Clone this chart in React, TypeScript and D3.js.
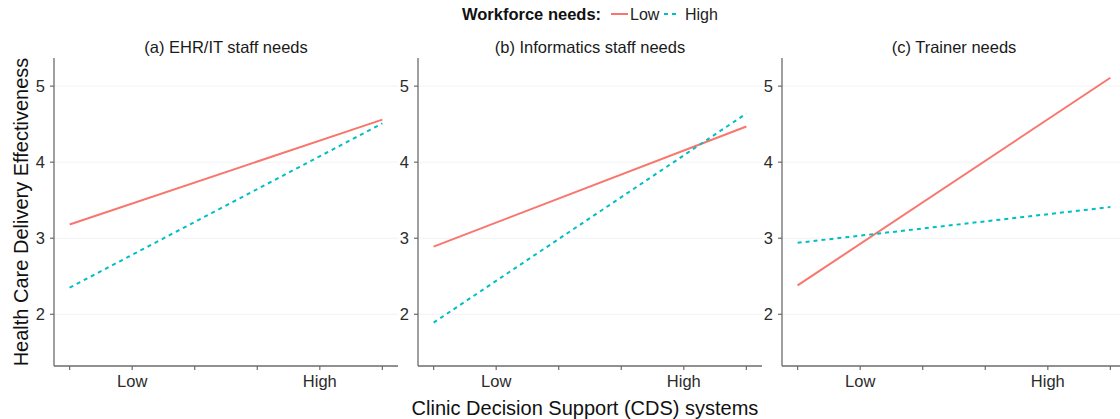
import React from "react";
import * as d3 from "d3";

// Simple-slope data: predicted effectiveness at the two ends of the CDS axis
const panelTitles = ["(a) EHR/IT staff needs", "(b) Informatics staff needs", "(c) Trainer needs"];
const lineX = [0, 5];
const lowNeeds = [
  [3.18, 4.56],
  [2.89, 4.47],
  [2.38, 5.11],
];
const highNeeds = [
  [2.35, 4.51],
  [1.89, 4.64],
  [2.94, 3.41],
];
const xBreaks = [0, 1, 2, 3, 4, 5];
const xBreakLabels = ["", "Low", "", "", "High", ""];
const yBreaks = [2, 3, 4, 5];
const seriesNames = ["Low", "High"];
const legendTitle = "Workforce needs:";
const xTitle = "Clinic Decision Support (CDS) systems";
const yTitle = "Health Care Delivery Effectiveness";

const W = 1120;
const H = 419;
const panelLefts = [54, 418, 782];
const panelW = 344;
const top = 58;
const bottom = 366;
const RED = "#F8766D";
const BLUE = "#00BFC4";
const FONT = "'Liberation Sans', Arial, sans-serif";
const SMALL = 16.5;
const LARGE = 20;

export default function App() {
  const y = d3.scaleLinear().domain([1.32, 5.37]).range([bottom, top]);
  const line = d3
    .line<[number, number]>()
    .x((d) => d[0])
    .y((d) => d[1]);

  return (
    <svg
      width={W}
      height={H}
      style={{ position: "absolute", left: 0, top: 0, background: "#fff" }}
      fontFamily={FONT}
    >
      {/* legend */}
      <g>
        <text x={462} y={20} fontSize={SMALL} fontWeight="bold" fill="#111">
          {legendTitle}
        </text>
        <line x1={611} x2={628} y1={14} y2={14} stroke={RED} strokeWidth={2} />
        <text x={630} y={20} fontSize={16} fill="#222">
          {seriesNames[0]}
        </text>
        <line x1={664} x2={680} y1={14} y2={14} stroke={BLUE} strokeWidth={2} strokeDasharray="4 4" />
        <text x={685} y={20} fontSize={16} fill="#222">
          {seriesNames[1]}
        </text>
      </g>

      {panelTitles.map((title, i) => {
        const left = panelLefts[i];
        const x = d3.scaleLinear().domain([-0.25, 5.25]).range([left, left + panelW]);
        const lowPts = lineX.map((v, k) => [x(v), y(lowNeeds[i][k])] as [number, number]);
        const highPts = lineX.map((v, k) => [x(v), y(highNeeds[i][k])] as [number, number]);
        return (
          <g key={title}>
            {yBreaks.map((b) => (
              <line
                key={"g" + b}
                x1={left}
                x2={left + panelW}
                y1={y(b)}
                y2={y(b)}
                stroke="#f2f2f2"
                strokeWidth={1}
              />
            ))}
            <text
              x={left + panelW / 2}
              y={53}
              fontSize={SMALL}
              textAnchor="middle"
              fill="#1a1a1a"
            >
              {title}
            </text>
            <path d={line(lowPts) || ""} fill="none" stroke={RED} strokeWidth={2} />
            <path
              d={line(highPts) || ""}
              fill="none"
              stroke={BLUE}
              strokeWidth={2}
              strokeDasharray="4 4"
            />
            {/* axes */}
            <line x1={left} x2={left} y1={top} y2={bottom} stroke="#6b6b6b" strokeWidth={1.3} />
            <line x1={left} x2={left + panelW} y1={bottom} y2={bottom} stroke="#6b6b6b" strokeWidth={1.3} />
            {yBreaks.map((b) => (
              <g key={"y" + b}>
                <line x1={left - 4} x2={left} y1={y(b)} y2={y(b)} stroke="#6b6b6b" strokeWidth={1.2} />
                <text
                  x={left - 9}
                  y={y(b) + 6}
                  fontSize={SMALL}
                  textAnchor="end"
                  fill="#2b2b2b"
                >
                  {b}
                </text>
              </g>
            ))}
            {xBreaks.map((b, k) => (
              <g key={"x" + b}>
                <line x1={x(b)} x2={x(b)} y1={bottom} y2={bottom + 4} stroke="#6b6b6b" strokeWidth={1.2} />
                {xBreakLabels[k] && (
                  <text
                    x={x(b)}
                    y={387}
                    fontSize={SMALL}
                    textAnchor="middle"
                    fill="#2b2b2b"
                  >
                    {xBreakLabels[k]}
                  </text>
                )}
              </g>
            ))}
          </g>
        );
      })}

      <text x={585} y={415} fontSize={LARGE} textAnchor="middle" fill="#111">
        {xTitle}
      </text>
      <text
        transform={`translate(28, 212) rotate(-90)`}
        fontSize={LARGE}
        textAnchor="middle"
        fill="#111"
      >
        {yTitle}
      </text>
    </svg>
  );
}
